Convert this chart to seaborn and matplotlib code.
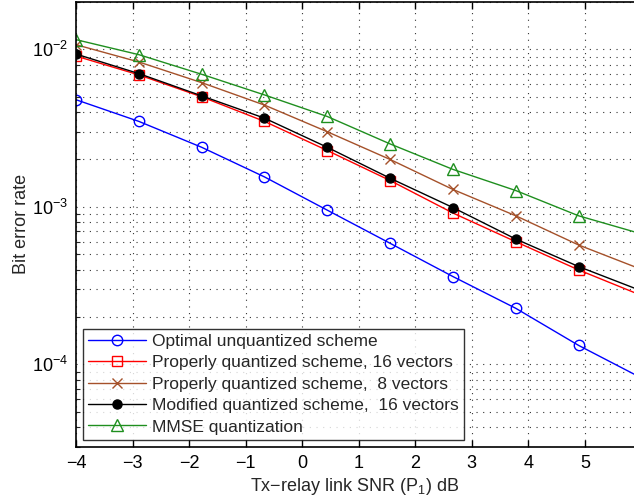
import numpy as np
import pandas as pd
import matplotlib
matplotlib.use('Agg')
import matplotlib.pyplot as plt
import seaborn as sns
from matplotlib.ticker import LogLocator, NullFormatter

sns.set_style('white')
plt.rcParams['font.family'] = ['Liberation Sans', 'DejaVu Sans']
plt.rcParams['mathtext.fontset'] = 'custom'
plt.rcParams['mathtext.rm'] = 'Liberation Sans'
plt.rcParams['mathtext.it'] = 'Liberation Sans'

# SNR points (dB), 10 points from -4 to 6
snr = [-4.0, -2.889, -1.778, -0.667, 0.444, 1.556, 2.667, 3.778, 4.889, 6.0]

ber_optimal = [4.79e-3, 3.49e-3, 2.39e-3, 1.55e-3, 9.53e-4,
               5.87e-4, 3.61e-4, 2.27e-4, 1.32e-4, 8.2e-5]
ber_proper16 = [9.07e-3, 6.89e-3, 5.0e-3, 3.49e-3, 2.28e-3,
                1.47e-3, 9.14e-4, 6.01e-4, 3.98e-4, 2.74e-4]
ber_proper8 = [1.071e-2, 8.32e-3, 6.15e-3, 4.43e-3, 3.0e-3,
               2.0e-3, 1.29e-3, 8.78e-4, 5.73e-4, 4.01e-4]
ber_modified16 = [9.34e-3, 7.02e-3, 5.07e-3, 3.66e-3, 2.39e-3,
                  1.52e-3, 9.9e-4, 6.25e-4, 4.18e-4, 2.93e-4]
ber_mmse = [1.153e-2, 9.26e-3, 6.95e-3, 5.14e-3, 3.75e-3,
            2.51e-3, 1.73e-3, 1.27e-3, 8.78e-4, 6.74e-4]

labels = ['Optimal unquantized scheme',
          'Properly quantized scheme, 16 vectors',
          'Properly quantized scheme,  8 vectors',
          'Modified quantized scheme,  16 vectors',
          'MMSE quantization']

series = [ber_optimal, ber_proper16, ber_proper8, ber_modified16, ber_mmse]

# style per curve: color, marker, size, filled
styles = [
    ('#0000ff', 'o', 7.5, False),
    ('#ff0000', 's', 6.5, False),
    ('#a5512a', 'x', 7.5, False),
    ('#000000', 'o', 6.5, True),
    ('#1f8f1f', '^', 8.0, False),
]

fig = plt.figure(figsize=(6.34, 5.01), dpi=100)
ax = fig.add_axes([0.12, 0.1084, 0.88, 0.8876])

for lab, vals, (col, mk, ms, filled) in zip(labels, series, styles):
    df = pd.DataFrame({'snr': snr, 'ber': vals})
    sns.lineplot(data=df, x='snr', y='ber', ax=ax, color=col, linewidth=1.0,
                 marker=mk, markersize=ms, markeredgecolor=col,
                 markerfacecolor=col if filled else 'none',
                 markeredgewidth=1.0, label=lab, clip_on=True)

ax.set_yscale('log')
ax.set_xlim(-4, 5.87)
ax.set_ylim(3e-5, 2e-2)
ax.set_xticks(range(-4, 6))
ax.set_xticklabels(['\u2212' + str(-v) if v < 0 else str(v) for v in range(-4, 6)])
ax.yaxis.set_major_locator(LogLocator(base=10))
ax.yaxis.set_minor_locator(LogLocator(base=10, subs=np.arange(2, 10)))
ax.yaxis.set_minor_formatter(NullFormatter())

ax.grid(True, which='major', axis='both', color='#333333', linestyle=(0, (1, 5)), linewidth=0.8)
ax.grid(True, which='minor', axis='y', color='#333333', linestyle=(0, (1, 5)), linewidth=0.8)

ax.tick_params(axis='both', which='major', direction='in', length=5, width=1,
               top=True, labelsize=13, colors='black', pad=6)
ax.tick_params(axis='y', which='minor', direction='in', length=3, width=0.8, left=True)
ax.tick_params(axis='x', which='major', bottom=True)
for side in ['left', 'bottom', 'top']:
    ax.spines[side].set_color('black')
    ax.spines[side].set_linewidth(1.2)
ax.spines['right'].set_visible(False)

ax.set_xlabel('Tx\u2212relay link SNR (P$_1$) dB', fontsize=13, labelpad=3)
ax.set_ylabel('Bit error rate', fontsize=13, labelpad=1)

leg = ax.legend(loc='lower left', fontsize=12.5, frameon=True, fancybox=False,
                handlelength=3.3, borderaxespad=0.4, labelspacing=0.36,
                borderpad=0.3, handletextpad=0.4)
leg.get_frame().set_edgecolor('black')
leg.get_frame().set_linewidth(1.0)

fig.savefig('out.png', dpi=100)
